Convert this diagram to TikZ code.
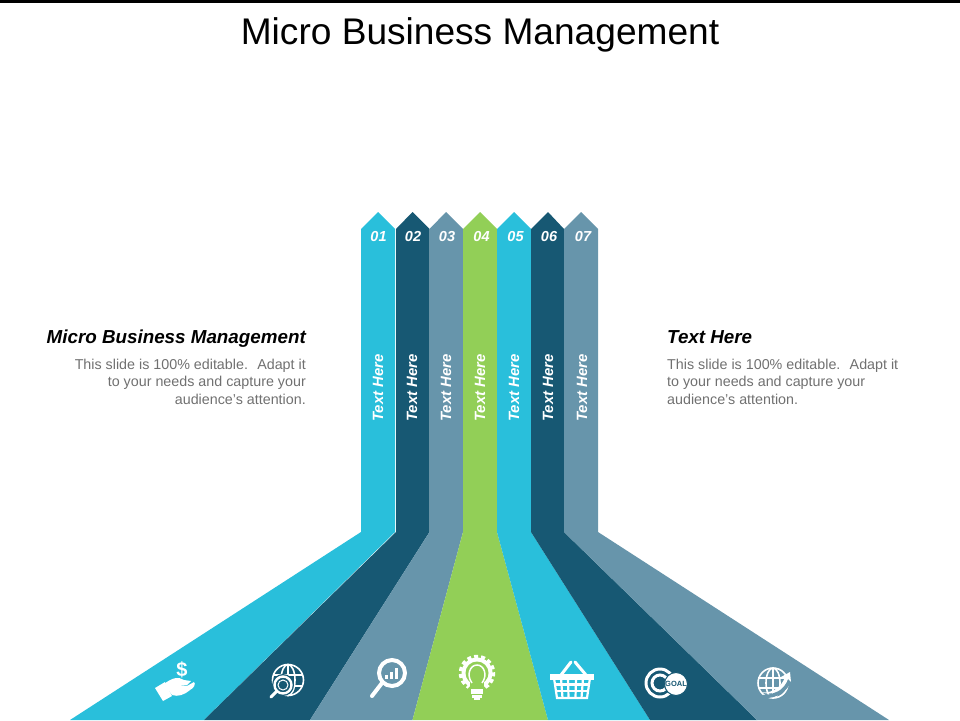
\documentclass[tikz,border=0pt]{standalone}
\usepackage{fontspec}
\setmainfont{Liberation Sans}
\definecolor{stripecyan}{HTML}{29BFDB}
\definecolor{stripedark}{HTML}{175873}
\definecolor{stripegray}{HTML}{6795AB}
\definecolor{stripegreen}{HTML}{92CF57}
\definecolor{bodygray}{HTML}{707070}
\tikzset{
  numlabel/.style={text=white,inner sep=0,font=\fontsize{14.5}{14.5}\selectfont\bfseries\itshape},
  sidelabel/.style={text=white,inner sep=0,rotate=90,font=\fontsize{14.9}{14.9}\selectfont\bfseries\itshape},
  headlabel/.style={text=black,inner sep=0,font=\fontsize{18.8}{18.8}\selectfont\bfseries\itshape},
  bodylabel/.style={text=bodygray,inner sep=0,font=\fontsize{14.3}{17.5}\selectfont},
  iconline/.style={draw=white,line width=1.6pt}
}
\begin{document}
\begin{tikzpicture}[x=1pt,y=-1pt]
\useasboundingbox (0,0) rectangle (960,720);
\fill[black] (0,0) rectangle (960,2.5);
\node[inner sep=0,anchor=base,font=\fontsize{37.1}{37.1}\selectfont] (title) at (480,44) {Micro Business Management};

\fill[stripecyan] (361,532) -- (361,229) -- (378,212) -- (395,229) -- (395,532) -- (204,720) -- (70,720) -- cycle;
\fill[stripedark] (396,532) -- (396,229) -- (412.5,212) -- (429.5,229) -- (429.5,532) -- (310,720) -- (204,720) -- cycle;
\fill[stripegray] (429.5,532) -- (429.5,229) -- (446,212) -- (463,229) -- (463,532) -- (412.5,720) -- (310,720) -- cycle;
\fill[stripegreen] (463,532) -- (463,229) -- (480,212) -- (497,229) -- (497,532) -- (548,720) -- (412.5,720) -- cycle;
\fill[stripecyan] (497,532) -- (497,229) -- (514,212) -- (531,229) -- (531,532) -- (650,720) -- (548,720) -- cycle;
\fill[stripedark] (531,532) -- (531,229) -- (548,212) -- (564,229) -- (564,532) -- (757,720) -- (650,720) -- cycle;
\fill[stripegray] (564,532) -- (564,229) -- (581,212) -- (598,229) -- (598,532) -- (889,720) -- (757,720) -- cycle;

\node[numlabel] (num1) at (378.5,236.5) {01};
\node[numlabel] (num2) at (413,236.5) {02};
\node[numlabel] (num3) at (447,236.5) {03};
\node[numlabel] (num4) at (481.5,236.5) {04};
\node[numlabel] (num5) at (515.5,236.5) {05};
\node[numlabel] (num6) at (549,236.5) {06};
\node[numlabel] (num7) at (583,236.5) {07};

\node[sidelabel] (text1) at (378,388) {Text Here};
\node[sidelabel] (text2) at (412,388) {Text Here};
\node[sidelabel] (text3) at (446,388) {Text Here};
\node[sidelabel] (text4) at (480,388) {Text Here};
\node[sidelabel] (text5) at (514,388) {Text Here};
\node[sidelabel] (text6) at (548,388) {Text Here};
\node[sidelabel] (text7) at (582,388) {Text Here};

\node[headlabel,anchor=base east] (headleft) at (306,343) {Micro Business Management};
\node[bodylabel,anchor=north east,align=right] (bodyleft) at (306,358.5) {This slide is 100\% editable.~ Adapt it\\to your needs and capture your\\audience's attention.};
\node[headlabel,anchor=base west] (headright) at (667,343) {Text Here};
\node[bodylabel,anchor=north west,align=left] (bodyright) at (667,358.5) {This slide is 100\% editable.~ Adapt it\\to your needs and capture your\\audience's attention.};

\fill[white] (155,688) -- (165,682) -- (172,696) -- (163,701) -- cycle;
\fill[white] (164,684) .. controls (172,678) and (178,676) .. (184,680) -- (191,681) -- (187,685) -- (176,685) -- (187,686) -- (194,682) .. controls (196,684) and (194,688) .. (190,690) .. controls (184,695) and (178,697) .. (172,695) -- cycle;
\node[text=white,inner sep=0,font=\fontsize{20}{20}\selectfont\bfseries] (dollar) at (182,670) {\$};

\draw[iconline] (288,680) circle (15.5);
\draw[iconline] (288,680) ellipse (7 and 15.5);
\draw[iconline] (288,664.5) -- (288,695.5);
\draw[iconline] (273,675) -- (303,675);
\draw[iconline] (274,686) -- (302,686);
\fill[stripedark] (283,685) circle (11);
\draw[white,line width=2.4pt] (283,685) circle (8.5);
\draw[white,line width=1pt] (283,685) circle (5);
\draw[white,line width=3pt,line cap=round] (277,691) -- (271,697);

\draw[white,line width=4pt] (392,673) circle (13);
\draw[white,line width=4pt,line cap=round] (382,683) -- (372,696);
\fill[white] (385,675) rectangle (388,679);
\fill[white] (390,672) rectangle (393,679);
\fill[white] (395,668) rectangle (398,679);

\draw[white,line width=3.5pt,dash pattern=on 4pt off 3pt] (477,673) ++(60:16.5) arc (60:-240:16.5);
\fill[white] (477,673) circle (15.5);
\fill[stripegreen] (477,673) circle (11.5);
\fill[stripegreen] (470,681) rectangle (484,690);
\draw[white,line width=1.5pt] (472,683) .. controls (466,675) and (470,665) .. (477,665) .. controls (484,665) and (488,675) .. (482,683);
\fill[white] (471,689) rectangle (483,694);
\fill[white] (472,695) rectangle (482,698);
\fill[white] (474,698) rectangle (480,700);

\draw[white,line width=3pt,line cap=round] (561,675) -- (571,662);
\draw[white,line width=3pt,line cap=round] (575,662) -- (586,675);
\fill[white] (550,674) rectangle (594,679.5);
\draw[white,line width=2.2pt] (554,678) -- (557,698) -- (587,698) -- (590,678) -- cycle;
\draw[white,line width=2.2pt] (555,684.5) -- (589,684.5);
\draw[white,line width=2.2pt] (556,691) -- (588,691);
\draw[white,line width=2.2pt] (561,678) -- (562.5,698);
\draw[white,line width=2.2pt] (568,678) -- (568.5,698);
\draw[white,line width=2.2pt] (576,678) -- (575.5,698);
\draw[white,line width=2.2pt] (583,678) -- (581.5,698);

\draw[white,line width=3pt] (660,683) circle (14);
\draw[white,line width=3pt] (660,683) circle (8);
\node[circle,fill=white,draw=stripedark,line width=1pt,minimum size=23pt,inner sep=0,text=stripedark,font=\fontsize{7.5}{7.5}\selectfont\bfseries] (goal) at (676,684) {GOAL};

\draw[iconline] (773,683) circle (15);
\draw[iconline] (773,683) ellipse (7 and 15);
\draw[iconline] (773,668) -- (773,698);
\draw[iconline] (758,678) -- (788,678);
\draw[iconline] (759,688) -- (787,688);
\fill[stripegray] (763,695) .. controls (776,695) and (784,688) .. (787,677) -- (792,679) .. controls (788,692) and (776,699) .. (763,698) -- cycle;
\fill[white] (762,692.5) .. controls (774,693) and (782,686) .. (785,677) -- (781,677) -- (790,672) -- (791,682) -- (788,679) .. controls (784,690) and (774,696) .. (762,692.5) -- cycle;
\end{tikzpicture}
\end{document}
